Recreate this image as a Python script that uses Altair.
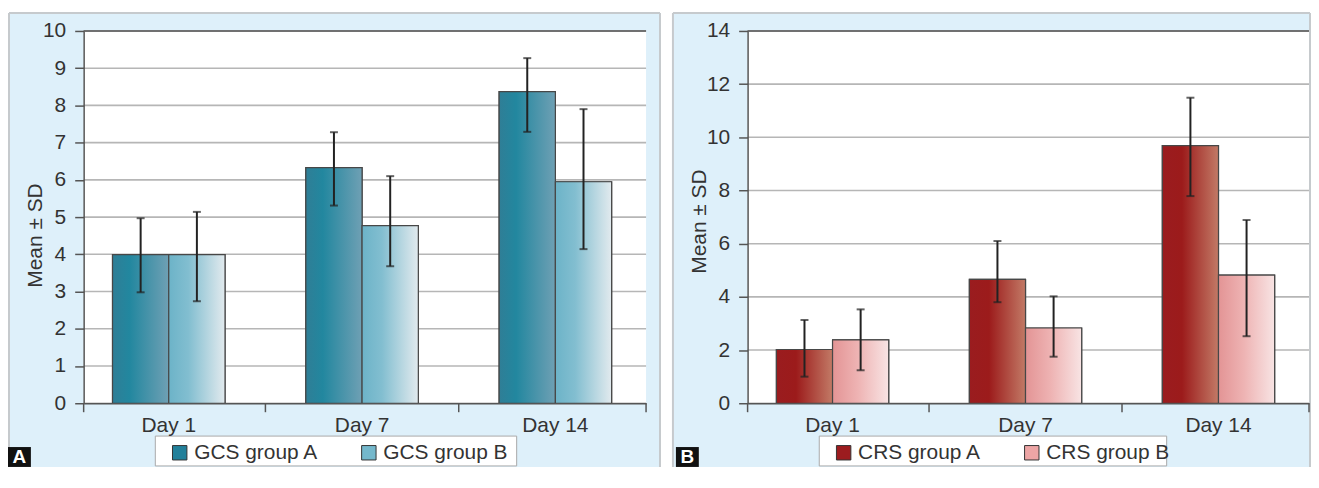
import altair as alt
import pandas as pd

# ---------------- data ----------------
days = ["Day 1", "Day 7", "Day 14"]

gcs_series = ["GCS group A", "GCS group B"]
gcs_a_mean = [3.99, 6.33, 8.37]
gcs_a_low = [2.98, 5.31, 7.29]
gcs_a_high = [4.97, 7.28, 9.27]
gcs_b_mean = [3.99, 4.77, 5.95]
gcs_b_low = [2.74, 3.68, 4.14]
gcs_b_high = [5.14, 6.10, 7.90]
gcs_ticks = [0, 1, 2, 3, 4, 5, 6, 7, 8, 9, 10]

crs_series = ["CRS group A", "CRS group B"]
crs_a_mean = [2.02, 4.66, 9.69]
crs_a_low = [1.00, 3.80, 7.79]
crs_a_high = [3.13, 6.10, 11.49]
crs_b_mean = [2.38, 2.83, 4.82]
crs_b_low = [1.24, 1.75, 2.52]
crs_b_high = [3.53, 4.02, 6.89]
crs_ticks = [0, 2, 4, 6, 8, 10, 12, 14]

FONT = "Liberation Sans"
FS = 21
TXT = "#333333"
AX = "#555555"
BG = "#def0fa"
BORDER = "#c6cacd"
GRID = "#b6b6b6"
BAR_STROKE = "#474747"
ERR = "#222222"

P_INNER = 0.418
P_OUTER = 0.1637
ALIGN = 0.456
BOTTOM = 438  # lower end of the panel background, in pixels below the plot top


def grad(stops):
    return alt.LinearGradient(
        gradient="linear",
        stops=[alt.GradientStop(color=c, offset=o) for o, c in stops],
        x1=0, x2=1, y1=0, y2=0,
    )


def panel(series, a_mean, a_low, a_high, b_mean, b_low, b_high, ticks,
          solid, grad_a, grad_b, letter, W, H, rect_right, letter_x,
          legend_right, title_y):
    rows = []
    for s, m, lo, hi in [(series[0], a_mean, a_low, a_high),
                         (series[1], b_mean, b_low, b_high)]:
        for d, mv, l, h in zip(days, m, lo, hi):
            rows.append(dict(day=d, series=s, mean=mv, low=l, high=h))
    df = pd.DataFrame(rows)
    one = pd.DataFrame({"k": [0]})

    yscale = alt.Scale(domain=[0, ticks[-1]], nice=False, zero=True)
    yaxis = alt.Axis(
        values=ticks, title="Mean ± SD", grid=False, zindex=1,
        labelFont=FONT, labelFontSize=FS, labelColor=TXT, labelPadding=9,
        tickSize=9, tickColor=AX, tickWidth=1.5,
        domainColor=AX, domainWidth=1.5,
        titleFont=FONT, titleFontSize=FS, titleFontWeight="normal",
        titleColor=TXT, titleAngle=270, titleAlign="center",
        titleBaseline="middle", titleX=-48, titleY=title_y,
    )
    xaxis = alt.Axis(
        title=None, labelAngle=0, ticks=False, zindex=1,
        labelFont=FONT, labelFontSize=FS, labelColor=TXT, labelPadding=11,
        domainColor=AX, domainWidth=1.5,
    )
    xscale = alt.Scale(paddingInner=P_INNER, paddingOuter=P_OUTER, align=ALIGN)
    xenc = alt.X("day:N", sort=days, scale=xscale, axis=xaxis)
    xoff = alt.XOffset("series:N", scale=alt.Scale(domain=series))
    step = W / (len(days) - P_INNER + 2 * P_OUTER)
    half_gap = P_INNER * step / 2

    bg = alt.Chart(one).mark_rect(fill=BG).encode(
        x=alt.value(-75), x2=alt.value(rect_right),
        y=alt.value(-18), y2=alt.value(BOTTOM))
    border_top = alt.Chart(one).mark_rule(color=BORDER, strokeWidth=2).encode(
        x=alt.value(-75), x2=alt.value(rect_right), y=alt.value(-18))
    border_l = alt.Chart(one).mark_rule(color=BORDER, strokeWidth=2).encode(
        x=alt.value(-75), y=alt.value(-18), y2=alt.value(BOTTOM))
    border_r = alt.Chart(one).mark_rule(color=BORDER, strokeWidth=2).encode(
        x=alt.value(rect_right), y=alt.value(-18), y2=alt.value(BOTTOM))
    plotbg = alt.Chart(one).mark_rect(fill="white").encode(
        x=alt.value(0), x2=alt.value(W), y=alt.value(0), y2=alt.value(H))
    grid = alt.Chart(pd.DataFrame({"v": ticks})).mark_rule(
        color=GRID, strokeWidth=1.6).encode(
        y=alt.Y("v:Q", scale=yscale, axis=yaxis),
        x=alt.value(0), x2=alt.value(W))
    topline = alt.Chart(one).mark_rule(color=AX, strokeWidth=1.5).encode(
        y=alt.value(0), x=alt.value(0), x2=alt.value(W))
    legbox = alt.Chart(one).mark_rect(fill="white", stroke="#a9a9a9",
                                      strokeWidth=1).encode(
        x=alt.value(72), x2=alt.value(legend_right),
        y=alt.value(407), y2=alt.value(437))

    # category tick marks: midway between groups and at both axis ends
    between = pd.DataFrame({"day": days[1:]})
    xticks_mid = alt.Chart(between).mark_rule(
        color=AX, strokeWidth=1.5, xOffset=-half_gap).encode(
        x=alt.X("day:N", sort=days, scale=xscale, axis=xaxis, bandPosition=0),
        y=alt.value(H), y2=alt.value(H + 9))
    xtick_l = alt.Chart(one).mark_rule(color=AX, strokeWidth=1.5).encode(
        x=alt.value(0), y=alt.value(H), y2=alt.value(H + 9))
    xtick_r = alt.Chart(one).mark_rule(color=AX, strokeWidth=1.5).encode(
        x=alt.value(W), y=alt.value(H), y2=alt.value(H + 9))

    solid_bars = alt.Chart(df).mark_bar(stroke=BAR_STROKE, strokeWidth=1.2).encode(
        x=xenc, xOffset=xoff,
        y=alt.Y("mean:Q", scale=yscale, axis=yaxis),
        color=alt.Color(
            "series:N", sort=series,
            scale=alt.Scale(domain=series, range=solid),
            legend=alt.Legend(
                orient="none", legendX=86, legendY=413, direction="horizontal",
                title=None, symbolType="square", symbolSize=210,
                symbolStrokeColor="#333333", symbolStrokeWidth=1,
                symbolOpacity=1, labelFont=FONT, labelFontSize=FS,
                labelColor=TXT, labelOffset=4, columnPadding=40, padding=0,
            ),
        ),
    )
    bars_a = alt.Chart(df).transform_filter(
        alt.datum.series == series[0]).mark_bar(
        fill=grad_a, stroke=BAR_STROKE, strokeWidth=1.2).encode(
        x=xenc, xOffset=xoff, y=alt.Y("mean:Q", scale=yscale, axis=yaxis))
    bars_b = alt.Chart(df).transform_filter(
        alt.datum.series == series[1]).mark_bar(
        fill=grad_b, stroke=BAR_STROKE, strokeWidth=1.2).encode(
        x=xenc, xOffset=xoff, y=alt.Y("mean:Q", scale=yscale, axis=yaxis))

    err = alt.Chart(df).mark_rule(color=ERR, strokeWidth=2).encode(
        x=xenc, xOffset=xoff,
        y=alt.Y("low:Q", scale=yscale, axis=yaxis), y2="high:Q")
    cap_lo = alt.Chart(df).mark_tick(color=ERR, thickness=2, size=8).encode(
        x=xenc, xOffset=xoff, y=alt.Y("low:Q", scale=yscale, axis=yaxis))
    cap_hi = alt.Chart(df).mark_tick(color=ERR, thickness=2, size=8).encode(
        x=xenc, xOffset=xoff, y=alt.Y("high:Q", scale=yscale, axis=yaxis))

    letter_box = alt.Chart(one).mark_rect(fill="#111111").encode(
        x=alt.value(letter_x), x2=alt.value(letter_x + 23),
        y=alt.value(BOTTOM - 20), y2=alt.value(BOTTOM))
    letter_txt = alt.Chart(one).mark_text(
        text=letter, color="white", font=FONT, fontSize=19, fontWeight="bold",
        align="center", baseline="middle").encode(
        x=alt.value(letter_x + 11.5), y=alt.value(BOTTOM - 9.5))

    return alt.layer(
        bg, border_top, border_l, border_r, plotbg, grid, topline, legbox,
        xticks_mid, xtick_l, xtick_r,
        solid_bars, bars_a, bars_b, err, cap_lo, cap_hi,
        letter_box, letter_txt,
    ).properties(width=W, height=H)


left = panel(
    gcs_series, gcs_a_mean, gcs_a_low, gcs_a_high,
    gcs_b_mean, gcs_b_low, gcs_b_high, gcs_ticks,
    ["#22809a", "#74b8cc"],
    grad([(0, "#2f7e96"), (0.3, "#22879f"), (1, "#6fa0b4")]),
    grad([(0, "#6cb3c8"), (0.35, "#82bed0"), (1, "#e2eaee")]),
    "A", 565, 374, 579, -76, 435, 205,
)
right = panel(
    crs_series, crs_a_mean, crs_a_low, crs_a_high,
    crs_b_mean, crs_b_low, crs_b_high, crs_ticks,
    ["#9c1c1f", "#eda5a5"],
    grad([(0, "#9a1c1f"), (0.35, "#9c1b1b"), (1, "#c27a66")]),
    grad([(0, "#e39495"), (0.45, "#eeb3b3"), (1, "#f8e4e4")]),
    "B", 564, 374, 565, -72, 421, 191,
)

chart = alt.hconcat(left, right, spacing=11).resolve_scale(
    x="independent", y="independent", color="independent",
    xOffset="independent",
).resolve_legend(color="independent").configure(
    background="white",
    padding={"left": 0, "top": 3, "right": 0, "bottom": 0},
).configure_view(stroke=None)

chart.save("out.html", embed_options={"renderer": "svg", "actions": False})
